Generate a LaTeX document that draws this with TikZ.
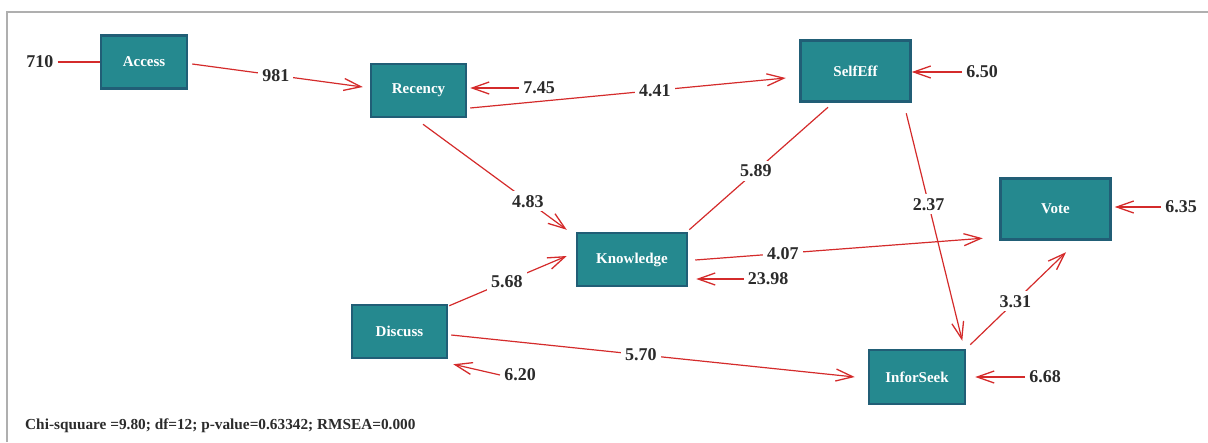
\documentclass[tikz,border=0pt]{standalone}
\usepackage{fontspec}
\setmainfont{Liberation Serif}
\usetikzlibrary{arrows.meta}

\definecolor{boxfill}{HTML}{25898F}
\definecolor{boxline}{HTML}{215E76}
\definecolor{pathred}{HTML}{D42B2B}
\definecolor{labtext}{HTML}{2B2B2B}
\definecolor{framegray}{HTML}{AFAFAF}

\begin{document}
\begin{tikzpicture}[x=1pt,y=-1pt,
  var/.style={draw=boxline, fill=boxfill, line width=2.5pt, text=white,
    font=\fontsize{15}{17}\selectfont\bfseries, inner sep=0pt},
  coef/.style={font=\fontsize{18}{20}\selectfont\bfseries, text=labtext,
    fill=white, inner sep=4pt},
  errlab/.style={font=\fontsize{18}{20}\selectfont\bfseries, text=labtext,
    inner sep=4pt},
  path/.style={draw=pathred, line width=1.2pt},
  tip/.style={-{Straight Barb[length=17pt,width=12pt,line width=1.3pt]}},
  err/.style={draw=pathred, line width=2.4pt},
]
\useasboundingbox (0,0) rectangle (1208,442);

% outer frame
\draw[framegray, line width=1.6pt] (7,442) -- (7,12) -- (1208,12);

% observed variables
\node[var, minimum width=86pt,  minimum height=53pt] (acc)  at (144,62)     {Access};
\node[var, minimum width=95pt,  minimum height=53pt] (rec)  at (418.5,90.5) {Recency};
\node[var, minimum width=110pt, minimum height=61pt] (self) at (855.5,71)   {SelfEff};
\node[var, minimum width=110pt, minimum height=61pt] (vote) at (1055.5,209) {Vote};
\node[var, minimum width=110pt, minimum height=53pt] (know) at (632,259.5)  {Knowledge};
\node[var, minimum width=95pt,  minimum height=53pt] (disc) at (399.5,331.5){Discuss};
\node[var, minimum width=96pt,  minimum height=54pt] (info) at (917,377)    {InforSeek};

% structural paths
\draw[path, tip] ([shift={(4,2)}]acc.east) -- node[coef, pos=0.49] {981}
  ([shift={(-7,-3.5)}]rec.west);
\draw[path, tip] ([shift={(3,17.5)}]rec.east) -- node[coef, pos=0.585] {4.41}
  ([shift={(-13.5,7)}]self.west);
\draw[path, tip] ([shift={(4.5,6)}]rec.south) -- node[coef, pos=0.73] {4.83}
  ([shift={(-9,-2)}]know.north west);
\draw[path] ([shift={(1,-2)}]know.north east) -- node[coef, pos=0.48] {5.89}
  ([shift={(-27.5,4.5)}]self.south);
\draw[path, tip] ([shift={(-5.5,10.5)}]self.south east) -- node[coef, pos=0.40] {2.37}
  ([shift={(-4,-8)}]info.north east);
\draw[path, tip] ([shift={(7,0.5)}]know.east) -- node[coef, pos=0.305] {4.07}
  ([shift={(-16.5,-2.5)}]vote.south west);
\draw[path, tip] ([shift={(1,2)}]disc.north east) -- node[coef, pos=0.49] {5.68}
  ([shift={(-9,-3.5)}]know.west);
\draw[path, tip] ([shift={(3,3.5)}]disc.east) -- node[coef, pos=0.47] {5.70}
  ([shift={(-13,0)}]info.west);
\draw[path, tip] ([shift={(4,-4)}]info.north east) -- node[coef, pos=0.47] {3.31}
  ([shift={(10.5,11.5)}]vote.south);

% error terms
\node[errlab] (e710)  at (40,62)    {710};
\node[errlab] (e745)  at (539,88)   {7.45};
\node[errlab] (e650)  at (982,72)   {6.50};
\node[errlab] (e2398) at (768,279)  {23.98};
\node[errlab] (e635)  at (1181,207) {6.35};
\node[errlab] (e668)  at (1045,377) {6.68};
\node[errlab] (e620)  at (520,375)  {6.20};

\draw[err] (e710.east) -- (acc.west);
\draw[err, tip, shorten >=3pt] (e745.west) -- (e745.west -| rec.east);
\draw[err, tip] (e650.west) -- (e650.west -| self.east);
\draw[err, tip, shorten >=8pt] (e2398.west) -- (e2398.west -| know.east);
\draw[err, tip, shorten >=3pt] (e635.west) -- (e635.west -| vote.east);
\draw[err, tip, shorten >=9pt] (e668.west) -- (e668.west -| info.east);
\draw[path, tip] (e620.west) -- ([shift={(5,5)}]disc.south east);

% fit statistics
\node[anchor=west, text=labtext, inner sep=0pt,
  font=\fontsize{15.3}{17}\selectfont\bfseries] (stats) at (25,426)
  {Chi-squuare =9.80; df=12; p-value=0.63342; RMSEA=0.000};
\end{tikzpicture}
\end{document}
